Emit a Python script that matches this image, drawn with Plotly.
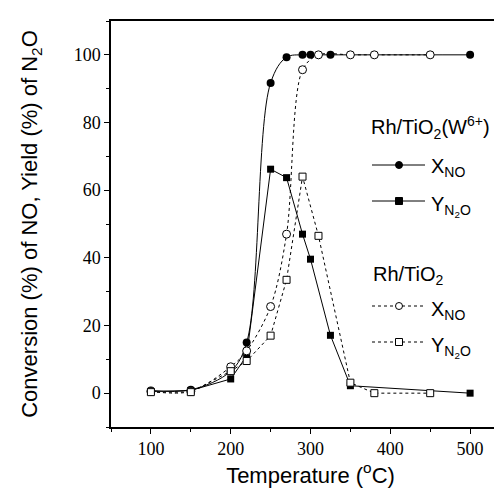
import plotly.graph_objects as go

# ---- data ----
temp_w_x = [100, 150, 200, 220, 250, 270, 290, 300, 325, 500]
conv_w = [0.8, 1.0, 6.5, 15.0, 91.7, 99.3, 100, 100, 100, 100]
temp_w_y = [100, 150, 200, 220, 250, 270, 290, 300, 325, 350, 500]
yield_w = [0.5, 0.8, 4.2, 11.0, 66.2, 63.7, 47.0, 39.6, 17.1, 2.2, 0]
temp_r = [100, 150, 200, 220, 250, 270, 290, 310, 350, 380, 450]
conv_r = [0.5, 0.5, 7.8, 12.5, 25.6, 47.0, 95.6, 100, 100, 100, 100]
yield_r = [0.3, 0.3, 6.5, 9.5, 17.0, 33.5, 64.0, 46.5, 3.1, 0, 0]

x_ticks = [100, 200, 300, 400, 500]
y_ticks = [0, 20, 40, 60, 80, 100]

W, H = 502, 489
ML, MR, MT, MB = 103, 0, 13, 70
PW, PH = W - ML - MR, H - MT - MB

def px(xpix):
    return (xpix - ML) / PW

def py(ypix):
    return (H - MB - ypix) / PH

fig = go.Figure()
fig.add_trace(go.Scatter(x=temp_w_x, y=conv_w, mode="lines+markers",
                         line=dict(color="black", width=1, shape="spline", smoothing=1.0),
                         marker=dict(symbol="circle", size=8, color="black")))
fig.add_trace(go.Scatter(x=temp_w_y, y=yield_w, mode="lines+markers",
                         line=dict(color="black", width=1),
                         marker=dict(symbol="square", size=7, color="black")))
fig.add_trace(go.Scatter(x=temp_r, y=conv_r, mode="lines+markers",
                         line=dict(color="black", width=1, dash="3px,3px", shape="spline", smoothing=0.9),
                         marker=dict(symbol="circle", size=8, color="white",
                                     line=dict(color="black", width=1))))
fig.add_trace(go.Scatter(x=temp_r, y=yield_r, mode="lines+markers",
                         line=dict(color="black", width=1, dash="3px,3px"),
                         marker=dict(symbol="square", size=7, color="white",
                                     line=dict(color="black", width=1))))

shapes = []
annotations = []
LX0, LX1, LM = 364, 417, 391

def legend_item(ypix, symbol, filled, dashed):
    shapes.append(dict(type="line", xref="paper", yref="paper",
                       x0=px(LX0), x1=px(LX1), y0=py(ypix), y1=py(ypix),
                       line=dict(color="black", width=1, dash="3px,3px" if dashed else "solid")))
    r = 3.5
    shapes.append(dict(type="circle" if symbol == "circle" else "rect",
                       xref="paper", yref="paper",
                       x0=px(LM - r), x1=px(LM + r), y0=py(ypix + r), y1=py(ypix - r),
                       fillcolor="black" if filled else "white",
                       line=dict(color="black", width=1)))

legend_item(157, "circle", True, False)
legend_item(193, "square", True, False)
legend_item(298, "circle", False, True)
legend_item(334, "square", False, True)

font_leg = dict(family="Liberation Sans, Arial, sans-serif", size=20, color="black")

def label(text, xpix, ypix):
    annotations.append(dict(text=text, xref="paper", yref="paper", x=px(xpix), y=py(ypix),
                            xanchor="left", yanchor="middle", showarrow=False, font=font_leg))

label("Rh/TiO<sub>2</sub>(W<sup>6+</sup>)", 361, 120)
label("X<sub>NO</sub>", 421, 160)
label("Y<sub>N<sub>2</sub>O</sub>", 421, 198)
label("Rh/TiO<sub>2</sub>", 363, 267)
label("X<sub>NO</sub>", 421, 302)
label("Y<sub>N<sub>2</sub>O</sub>", 421, 339)

fig.update_layout(
    width=W, height=H,
    margin=dict(l=ML, r=MR, t=MT, b=MB),
    paper_bgcolor="white", plot_bgcolor="white",
    showlegend=False,
    shapes=shapes, annotations=annotations,
    xaxis=dict(range=[50, 550], tickvals=x_ticks, ticktext=[str(v) for v in x_ticks],
               ticks="outside", ticklen=5, tickwidth=1, tickcolor="black",
               minor=dict(dtick=50, tick0=0, ticks="outside", ticklen=3, tickcolor="black"),
               showline=True, linecolor="black", linewidth=1.5, mirror=True,
               showgrid=False, zeroline=False,
               tickfont=dict(family="Liberation Serif, Times New Roman, serif", size=18, color="black"),
               title=dict(text="Temperature (<sup>o</sup>C)", standoff=8,
                          font=dict(family="Liberation Sans, Arial, sans-serif", size=22, color="black"))),
    yaxis=dict(range=[-10, 110], tickvals=y_ticks, ticktext=[str(v) for v in y_ticks],
               ticks="outside", ticklen=5, tickwidth=1, tickcolor="black",
               minor=dict(dtick=10, tick0=0, ticks="outside", ticklen=3, tickcolor="black"),
               showline=True, linecolor="black", linewidth=1.5, mirror=False,
               showgrid=False, zeroline=False,
               tickfont=dict(family="Liberation Serif, Times New Roman, serif", size=18, color="black"),
               title=dict(text="Conversion (%) of NO, Yield (%) of N<sub>2</sub>O", standoff=30,
                          font=dict(family="Liberation Sans, Arial, sans-serif", size=22, color="black"))),
)

fig.write_html("out.html")
